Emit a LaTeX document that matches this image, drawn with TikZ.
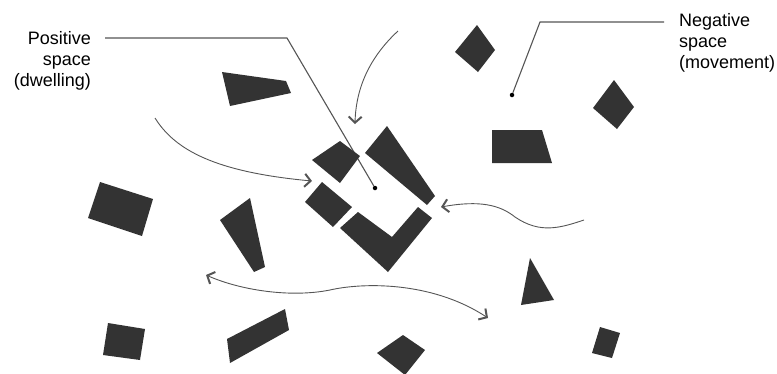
\documentclass[tikz,border=0pt]{standalone}
\usepackage{fontspec}
\setmainfont{Liberation Sans}
\usetikzlibrary{arrows.meta,positioning}
\definecolor{blockgrey}{HTML}{333333}
\definecolor{linegrey}{HTML}{555555}
\tikzset{barb/.tip={Straight Barb[length=6pt, width=13pt, line width=2pt]}}
\tikzstyle{block}=[fill=blockgrey, draw=none]
\tikzstyle{flow}=[draw=linegrey, line width=0.9pt, -barb]
\tikzstyle{twoway}=[draw=linegrey, line width=0.9pt, barb-barb]
\tikzstyle{leader}=[draw=linegrey, line width=1.1pt]
\tikzstyle{spacetext}=[font=\fontsize{18}{21}\selectfont, inner sep=0pt,
        text=black]
\tikzstyle{dot}=[fill=black, shape=circle, inner sep=0pt, minimum size=4.5pt]

\begin{document}
\begin{tikzpicture}[x=1pt, y=-1pt]
        \useasboundingbox (0,0) rectangle (777,373);

        % labels and their leaders
        \node[spacetext, align=right, anchor=north east] (pos) at (91,31)
            {Positive\\space\\(dwelling)};
        \node[spacetext, align=left, anchor=north west] (neg) at (679,13)
            {Negative\\space\\(movement)};
        \node[dot] (posdot) at (375,188) {};
        \node[dot] (negdot) at (512,95) {};
        \coordinate (poselbow) at (287,38);
        \coordinate (negelbow) at (540,22);
        \draw[leader] ([xshift=14pt]pos.east |- poselbow) -- (poselbow)
            -- (posdot);
        \draw[leader] ([xshift=-15pt]neg.west |- negelbow) -- (negelbow)
            -- (negdot);

        % the dwelling cluster
        \fill[block] (312,160) -- (340,141) -- (360,156) -- (340,183) -- cycle;
        \fill[block] (305,202) -- (322,182) -- (352,207) -- (333,227) -- cycle;
        \fill[block] (365,153) -- (387,126) -- (435,196) -- (427,205) -- cycle;
        \fill[block] (340,228) -- (358,212) -- (392,237) -- (418,207)
            -- (432,218) -- (388,272) -- cycle;

        % scattered blocks
        \fill[block] (222,72) -- (286,81) -- (291,93) -- (230,106) -- cycle;
        \fill[block] (477,25) -- (495,50) -- (478,72) -- (455,52) -- cycle;
        \fill[block] (614,80) -- (634,107) -- (617,129) -- (593,108) -- cycle;
        \fill[block] (492,130) -- (542,130) -- (552,163) -- (492,163) -- cycle;
        \fill[block] (100,182) -- (153,199) -- (142,236) -- (88,218) -- cycle;
        \fill[block] (220,220) -- (250,198) -- (265,267) -- (254,272) -- cycle;
        \fill[block] (530,258) -- (554,300) -- (521,305) -- cycle;
        \fill[block] (600,327) -- (620,333) -- (612,358) -- (592,353) -- cycle;
        \fill[block] (108,323) -- (145,329) -- (140,360) -- (103,355) -- cycle;
        \fill[block] (227,339) -- (285,309) -- (289,330) -- (230,363) -- cycle;
        \fill[block] (403,335) -- (425,350) -- (405,375) -- (377,353) -- cycle;

        % movement
        \coordinate (topin) at (398,31);
        \coordinate (topout) at (355,124);
        \coordinate (leftin) at (155,118);
        \coordinate (leftout) at (312,181);
        \coordinate (rightin) at (584,220);
        \coordinate (rightout) at (441,207);
        \coordinate (crossa) at (206,275);
        \coordinate (crossb) at (488,318);

        \draw[flow] (topin) .. controls (372,55) and (356,85) .. (topout);
        \draw[flow] (leftin) .. controls (175,150) and (215,172) .. (leftout);
        \draw[flow] (rightin) .. controls (560,228) and (540,234) .. (515,217)
            .. controls (500,205) and (480,200) .. (rightout);
        \draw[twoway] (crossa) .. controls (240,290) and (290,298) .. (330,290)
            .. controls (360,283) and (430,280) .. (crossb);

    \end{tikzpicture}
\end{document}
